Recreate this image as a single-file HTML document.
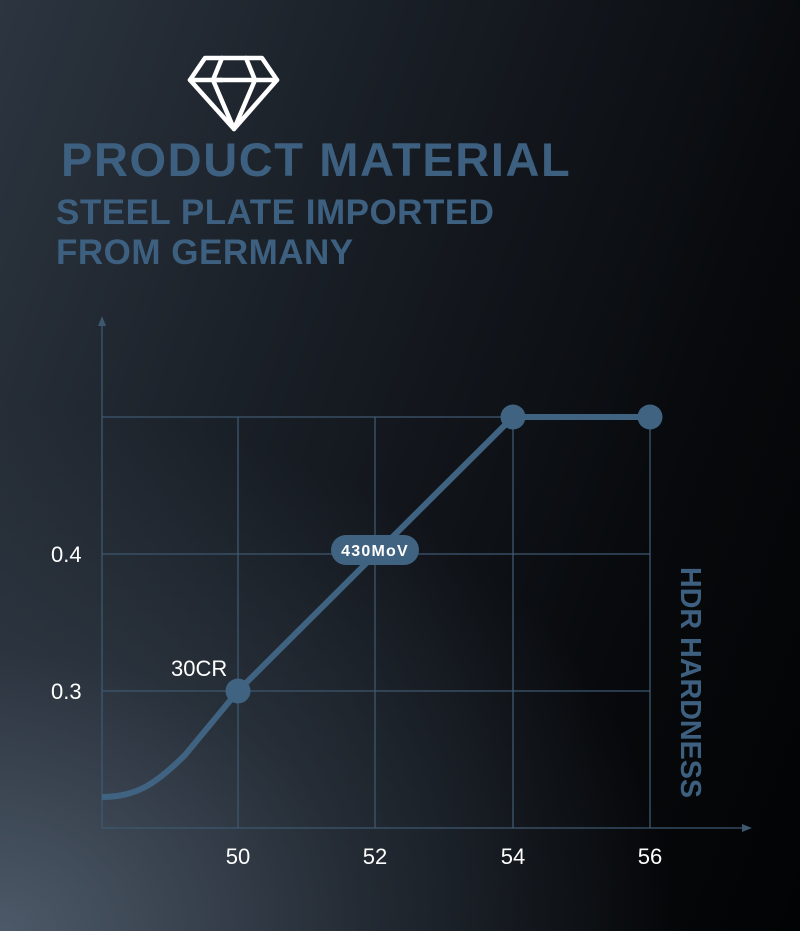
<!DOCTYPE html>
<html><head><meta charset="utf-8"><style>
html,body{margin:0;padding:0;}
body{width:800px;height:931px;overflow:hidden;position:relative;
background:
radial-gradient(ellipse 900px 700px at 0% 100%, rgba(80,92,108,0.95) 0%, rgba(50,60,72,0.6) 40%, rgba(0,0,0,0) 75%),
linear-gradient(110deg,#2c3540 0%,#171c23 40%,#07090c 75%,#020304 100%);
font-family:"Liberation Sans",sans-serif;}
.t{position:absolute;color:#3e6080;font-weight:bold;white-space:nowrap;}
</style></head><body>
<svg width="800" height="931" style="position:absolute;left:0;top:0">
<g fill="none" stroke="#fff" stroke-width="4.5" stroke-linejoin="round" stroke-linecap="round">
<polygon points="205,58 262,58 277,80 234,129 190,80"/>
<line x1="190" y1="80" x2="277" y2="80"/>
<path d="M222,58 L213,80 L234,129 M246,58 L255,80 L234,129 M213,80 L222,80"/>
</g>
<g stroke="#3e5870" stroke-width="1.3" fill="none">
<line x1="102" y1="828" x2="102" y2="322"/>
<line x1="102" y1="828" x2="746" y2="828"/>
<line x1="238" y1="417" x2="238" y2="828"/>
<line x1="375" y1="417" x2="375" y2="828"/>
<line x1="513" y1="417" x2="513" y2="828"/>
<line x1="650" y1="417" x2="650" y2="828"/>
<line x1="102" y1="417" x2="650" y2="417"/>
<line x1="102" y1="554" x2="650" y2="554"/>
<line x1="102" y1="691" x2="650" y2="691"/>
</g>
<polygon points="102,316 98,326 106,326" fill="#3e5870"/>
<polygon points="752,828 742,824 742,832" fill="#3e5870"/>
<path d="M102,797 C135,797 155,785 185,755 L238,691 L513,417 L650,417" fill="none" stroke="#3f6381" stroke-width="6" stroke-linejoin="round"/>
<circle cx="238" cy="691" r="12.5" fill="#3f6381"/>
<circle cx="513" cy="417" r="12.5" fill="#3f6381"/>
<circle cx="650" cy="417" r="12.5" fill="#3f6381"/>
<rect x="331" y="535" width="88" height="30" rx="15" fill="#3f6381"/>
<text x="375" y="556" fill="#fff" font-family="Liberation Sans" font-weight="bold" font-size="16" letter-spacing="1.2" text-anchor="middle">430MoV</text>
<g fill="#fff" font-family="Liberation Sans" font-size="22">
<text x="51" y="562">0.4</text>
<text x="51" y="699">0.3</text>
<text x="171" y="676">30CR</text>
<text x="238" y="864" text-anchor="middle">50</text>
<text x="375" y="864" text-anchor="middle">52</text>
<text x="513" y="864" text-anchor="middle">54</text>
<text x="650" y="864" text-anchor="middle">56</text>
</g>
<text transform="translate(681,567) rotate(90)" fill="#3e6080" font-family="Liberation Sans" font-weight="bold" font-size="29" textLength="231" lengthAdjust="spacingAndGlyphs">HDR  HARDNESS</text>
</svg>
<div class="t" style="left:61px;top:132px;font-size:47px;letter-spacing:1.6px;">PRODUCT MATERIAL</div>
<div class="t" style="left:56px;top:193px;font-size:35px;line-height:40px;letter-spacing:0.5px;">STEEL PLATE IMPORTED<br>FROM GERMANY</div>
</body></html>
